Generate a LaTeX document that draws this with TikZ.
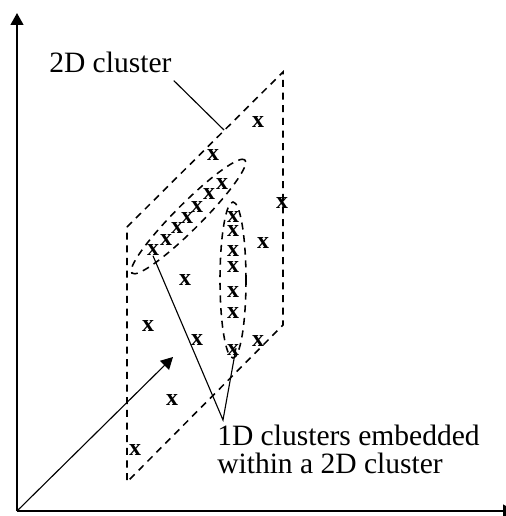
\documentclass[tikz,border=0pt]{standalone}
\usepackage{fontspec}
\setmainfont{Liberation Serif}
\usetikzlibrary{arrows.meta,shapes.geometric}
\tikzset{
  axis/.style={line width=1.5pt},
  clusterline/.style={line width=1.1pt,dash pattern=on 5pt off 4pt},
  pointer/.style={line width=0.8pt},
  xmark/.style={font=\fontsize{17}{17}\selectfont\bfseries,inner sep=0pt},
  lbl/.style={font=\fontsize{21}{19.5}\selectfont,inner sep=0pt},
}
\begin{document}
\begin{tikzpicture}[x=0.025cm,y=-0.025cm,>={Triangle[length=8.5pt,width=9pt]}]
\useasboundingbox (0,0) rectangle (506,516);
\clip (0,0) rectangle (506,516);
% axes, the right arrow runs off the page edge
\coordinate (o) at (17,511);
\coordinate (ytop) at (17,13);
\coordinate (xend) at (515,511);
\coordinate (dtip) at (173,357);
\draw[axis,->] (o) -- (ytop);
\draw[axis,->] (o) -- (xend);
\draw[pointer,->] (o) -- (dtip);
% the 2D cluster plane
\coordinate (tl) at (127,227);
\coordinate (tr) at (283,72);
\coordinate (br) at (283,325);
\coordinate (bl) at (127,482);
\draw[clusterline] (tl) -- (tr) -- (br) -- (bl) -- cycle;
\node[clusterline,draw,ellipse,rotate=45,minimum width=4cm,minimum height=0.65cm] (diag) at (188.5,216.5) {};
\node[clusterline,draw,ellipse,minimum width=0.65cm,minimum height=3.9cm] (vert) at (233,280) {};
% points
\node[xmark] (d1) at (153,250) {x};
\node[xmark] (d2) at (166,240) {x};
\node[xmark] (d3) at (177,228) {x};
\node[xmark] (d4) at (187,218) {x};
\node[xmark] (d5) at (197,207) {x};
\node[xmark] (d6) at (209,194) {x};
\node[xmark] (d7) at (222,184) {x};
\node[xmark] (v1) at (233,217) {x};
\node[xmark] (v2) at (233,231) {x};
\node[xmark] (v3) at (233,251) {x};
\node[xmark] (v4) at (233,267) {x};
\node[xmark] (v5) at (233,292) {x};
\node[xmark] (v6) at (233,313) {x};
\node[xmark] (v7) at (233,350) {x};
\node[xmark] (p1) at (258,122) {x};
\node[xmark] (p2) at (213,155) {x};
\node[xmark] (p3) at (282,203) {x};
\node[xmark] (p4) at (263,243) {x};
\node[xmark] (p5) at (185,280) {x};
\node[xmark] (p6) at (148,326) {x};
\node[xmark] (p7) at (197,340) {x};
\node[xmark] (p8) at (258,341) {x};
\node[xmark] (p9) at (172,400) {x};
\node[xmark] (p10) at (135,450) {x};
% labels
\node[lbl,anchor=base west] (lbl2d) at (49,72) {2D cluster};
\coordinate (edge2d) at (224,130);
\draw[pointer] ([shift={(2,8)}]lbl2d.south east) -- (edge2d);
\node[lbl,anchor=north west,align=left] (lbl1d) at (217,425) {1D clusters embedded\\within a 2D cluster};
\coordinate (apex) at (223,420);
\draw[pointer] (d1.south) -- (apex) -- (236,348);
\end{tikzpicture}
\end{document}
